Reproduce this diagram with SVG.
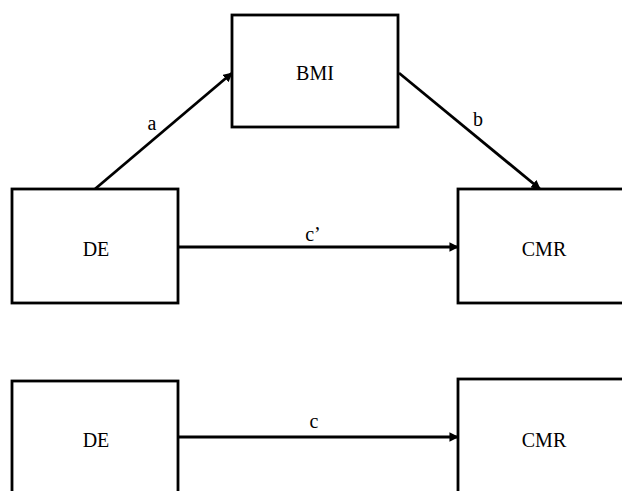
<svg xmlns="http://www.w3.org/2000/svg" width="622" height="491" viewBox="0 0 622 491">
<style>
.box{fill:#fff;stroke:#000;stroke-width:2.8}
.lbl{font-family:"Liberation Serif","Times New Roman",serif;font-size:20px;fill:#000;text-anchor:middle}
.edge{stroke:#000;stroke-width:2.8;fill:none;marker-end:url(#ah)}
</style>
<defs>
<marker id="ah" viewBox="0 0 10 10" refX="9" refY="5" markerWidth="3.4" markerHeight="3.4" orient="auto" markerUnits="strokeWidth">
<path d="M0,0 L10,5 L0,10 z" fill="#000"/>
</marker>
</defs>
<rect width="622" height="491" fill="#fff"/>
<g id="connectors">
<line class="edge" x1="95" y1="189" x2="232" y2="73"/>
<text class="lbl" x="152" y="130">a</text>
<line class="edge" x1="399" y1="73" x2="540" y2="189"/>
<text class="lbl" x="478" y="126">b</text>
<line class="edge" x1="178" y1="247" x2="458" y2="247"/>
<text class="lbl" x="313" y="241">c’</text>
<line class="edge" x1="178" y1="437" x2="458" y2="437"/>
<text class="lbl" x="314" y="428">c</text>
</g>
<g id="bmi">
<rect class="box" x="232" y="15" width="166" height="112"/>
<text class="lbl" x="315" y="80">BMI</text>
</g>
<g id="de1">
<rect class="box" x="12" y="189" width="166" height="114"/>
<text class="lbl" x="96" y="256">DE</text>
</g>
<g id="cmr1">
<rect class="box" x="458" y="189" width="180" height="114"/>
<text class="lbl" x="544" y="256">CMR</text>
</g>
<g id="de2">
<rect class="box" x="12" y="381" width="166" height="130"/>
<text class="lbl" x="96" y="447">DE</text>
</g>
<g id="cmr2">
<rect class="box" x="458" y="379" width="180" height="132"/>
<text class="lbl" x="544" y="447">CMR</text>
</g>
</svg>
